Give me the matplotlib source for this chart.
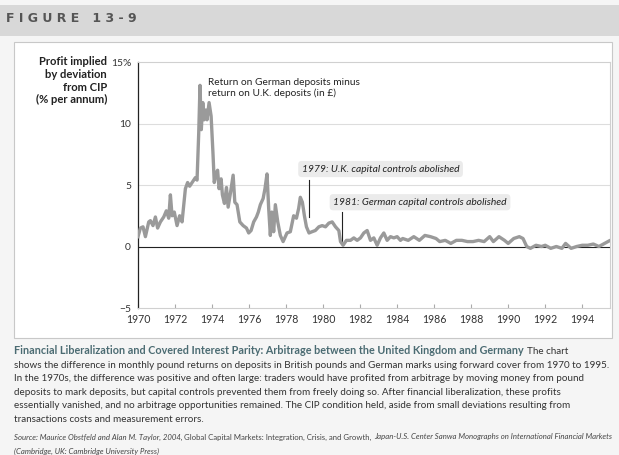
import matplotlib.pyplot as plt
import matplotlib.patches as patches
import numpy as np

plt.rcParams['font.family'] = ['Lato', 'DejaVu Sans']

# (year, profit in % per annum)
years = [1970.00, 1970.13, 1970.27, 1970.40, 1970.58, 1970.67, 1970.81, 1970.94,
         1971.06, 1971.21, 1971.39, 1971.53, 1971.66, 1971.75, 1971.84, 1971.96,
         1972.11, 1972.25, 1972.38, 1972.56, 1972.68, 1972.79, 1972.92, 1973.10,
         1973.19, 1973.28, 1973.35, 1973.42, 1973.50, 1973.57, 1973.66, 1973.73,
         1973.84, 1973.95, 1974.05, 1974.12, 1974.21, 1974.30, 1974.38, 1974.49,
         1974.56, 1974.67, 1974.78, 1974.87, 1975.00, 1975.14, 1975.23, 1975.35,
         1975.50, 1975.68, 1975.86, 1975.98, 1976.11, 1976.25, 1976.40, 1976.50,
         1976.61, 1976.76, 1976.86, 1976.97, 1977.06, 1977.15, 1977.23, 1977.33,
         1977.42, 1977.55, 1977.69, 1977.84, 1978.05, 1978.23, 1978.41, 1978.56,
         1978.68, 1978.77, 1978.88, 1978.99, 1979.10, 1979.24, 1979.40, 1979.58,
         1979.77, 1979.95, 1980.13, 1980.31, 1980.49, 1980.67, 1980.85, 1980.94,
         1981.08, 1981.26, 1981.48, 1981.66, 1981.84, 1982.02, 1982.20, 1982.38,
         1982.56, 1982.74, 1982.92, 1983.10, 1983.28, 1983.46, 1983.64, 1983.82,
         1984.00, 1984.18, 1984.30, 1984.60, 1984.90, 1985.20, 1985.50, 1985.80,
         1986.10, 1986.30, 1986.60, 1986.90, 1987.20, 1987.50, 1987.80, 1988.10,
         1988.40, 1988.70, 1989.00, 1989.20, 1989.50, 1989.80, 1990.00, 1990.30,
         1990.60, 1990.80, 1991.00, 1991.20, 1991.50, 1991.80, 1992.00, 1992.30,
         1992.60, 1992.90, 1993.10, 1993.40, 1993.70, 1994.00, 1994.30, 1994.60,
         1994.90, 1995.20, 1995.45]
profit = [0.8, 1.5, 1.6, 0.8, 2.0, 2.1, 1.7, 2.4,
          1.5, 2.0, 2.4, 2.9, 2.3, 4.2, 2.5, 2.8,
          1.7, 2.5, 2.0, 4.7, 5.2, 4.9, 5.2, 5.6,
          5.4, 9.2, 13.1, 9.5, 11.7, 10.3, 11.1, 10.3,
          11.7, 10.6, 7.6, 5.2, 5.9, 6.2, 4.7, 5.5,
          4.2, 3.5, 4.8, 3.2, 4.4, 5.8, 3.6, 3.4,
          2.0, 1.7, 1.5, 1.1, 1.3, 2.0, 2.4, 2.8,
          3.4, 3.9, 4.7, 5.9, 3.1, 0.9, 2.8, 1.2,
          3.4, 2.0, 0.9, 0.4, 1.1, 1.2, 2.5, 2.3,
          3.1, 4.0, 3.6, 2.5, 1.6, 1.1, 1.2, 1.3,
          1.6, 1.7, 1.6, 1.9, 2.0, 1.6, 1.3, 0.4,
          0.1, 0.5, 0.5, 0.7, 0.5, 0.7, 1.1, 1.3,
          0.5, 0.7, 0.1, 0.7, 1.1, 0.5, 0.8, 0.7,
          0.8, 0.5, 0.65, 0.5, 0.8, 0.5, 0.9, 0.8,
          0.65, 0.4, 0.5, 0.25, 0.5, 0.5, 0.4, 0.4,
          0.5, 0.4, 0.8, 0.4, 0.8, 0.5, 0.25, 0.65,
          0.8, 0.65, 0.0, -0.15, 0.1, 0.0, 0.1, -0.15,
          0.0, -0.15, 0.25, -0.15, 0.0, 0.1, 0.1, 0.2,
          0.0, 0.25, 0.45]

xticks = list(range(1970, 1996, 2))
yticks = [-5, 0, 5, 10, 15]
ytick_labels = ['\u22125', '0', '5', '10', '15%']

caption = [
    "shows the difference in monthly pound returns on deposits in British pounds and German marks using forward cover from 1970 to 1995.",
    "In the 1970s, the difference was positive and often large: traders would have profited from arbitrage by moving money from pound",
    "deposits to mark deposits, but capital controls prevented them from freely doing so. After financial liberalization, these profits",
    "essentially vanished, and no arbitrage opportunities remained. The CIP condition held, aside from small deviations resulting from",
    "transactions costs and measurement errors.",
]
title = "Financial Liberalization and Covered Interest Parity: Arbitrage between the United Kingdom and Germany"

W, H = 619, 455
fig = plt.figure(figsize=(W / 100, H / 100), dpi=100)
fig.patch.set_facecolor('#f5f5f5')


def px(x, y):
    return x / W, 1 - y / H


# header band and white panel
fig.patches.append(patches.Rectangle(px(0, 36), 1, 31 / H, transform=fig.transFigure,
                                     facecolor='#d8d8d8', edgecolor='none', zorder=-2))
fig.patches.append(patches.Rectangle(px(14, 338), 598 / W, 296 / H, transform=fig.transFigure,
                                     facecolor='white', edgecolor='#c8c8c8', lw=0.8, zorder=-2))
fig.text(*px(6, 19), "F I G U R E   1 3 - 9", fontsize=9, fontweight='bold',
         color='#555555', va='center', ha='left', family='DejaVu Sans')

ax = fig.add_axes([138 / W, 1 - 308 / H, 472 / W, 246 / H])
ax.set_facecolor('none')
ax.plot(years, profit, color='#9a9a9a', lw=2.4, solid_joinstyle='round', zorder=3)
ax.axhline(0, color='#222222', lw=0.8, zorder=2)
for g in [5, 10]:
    ax.axhline(g, color='#dddddd', lw=0.8, zorder=1)

ax.set_xlim(1970, 1995.5)
ax.set_ylim(-5, 15)
ax.set_xticks(xticks)
ax.set_xticklabels([str(t) for t in xticks])
ax.set_yticks(yticks)
ax.set_yticklabels(ytick_labels)
ax.tick_params(axis='x', direction='in', length=3, color='#aaaaaa', labelsize=7.6,
               labelcolor='#333333', pad=4)
ax.tick_params(axis='y', length=0, labelsize=7.4, labelcolor='#333333', pad=5)
for s in ['top', 'right', 'bottom']:
    ax.spines[s].set_color('#d0d0d0')
    ax.spines[s].set_linewidth(0.8)
ax.spines['left'].set_color('#222222')
ax.spines['left'].set_linewidth(0.9)

ax.text(1973.78, 13.7, "Return on German deposits minus\nreturn on U.K. deposits (in \u00a3)",
        fontsize=7.3, color='#222222', va='top', ha='left', linespacing=1.15)

box = dict(boxstyle='round,pad=0.35', facecolor='#ebebeb', edgecolor='none')
ax.text(1978.85, 6.3, "1979: U.K. capital controls abolished", fontsize=7.4, style='italic',
        color='#222222', va='center', ha='left', bbox=box)
ax.plot([1979.25, 1979.25], [2.4, 5.4], color='#222222', lw=0.8)
ax.text(1980.55, 3.6, "1981: German capital controls abolished", fontsize=7.4, style='italic',
        color='#222222', va='center', ha='left', bbox=box)
ax.plot([1981.03, 1981.03], [0.2, 2.8], color='#222222', lw=0.8)

fig.text(*px(107, 56), "Profit implied\nby deviation\nfrom CIP\n(% per annum)", fontsize=8.1,
         fontweight='bold', color='#222222', ha='right', va='top', linespacing=1.2)

# caption below the panel
renderer = fig.canvas.get_renderer()
t = fig.text(*px(14, 351), title, fontsize=7.75, fontweight='bold', color='#4b6b72',
             ha='left', va='center')
bb = t.get_window_extent(renderer)
fig.text(bb.x1 / W + 3 / W, 1 - 351 / H, "The chart", fontsize=7.1, color='#333333',
         ha='left', va='center')
for i, line in enumerate(caption):
    fig.text(*px(14, 365 + i * 13.6), line, fontsize=7.1, color='#333333', ha='left', va='center')

src = fig.text(*px(14, 437), "Source: Maurice Obstfeld and Alan M. Taylor, 2004, ", fontsize=5.6,
               style='italic', color='#444444', ha='left', va='center')
x0 = src.get_window_extent(renderer).x1
s2 = fig.text(x0 / W, 1 - 437 / H, "Global Capital Markets: Integration, Crisis, and Growth, ",
              fontsize=5.6, color='#444444', ha='left', va='center')
x0 = s2.get_window_extent(renderer).x1
fig.text(x0 / W, 1 - 437 / H, "Japan-U.S. Center Sanwa Monographs on International Financial Markets",
         fontsize=5.6, style='italic', color='#444444', ha='left', va='center')
fig.text(*px(14, 451), "(Cambridge, UK: Cambridge University Press)", fontsize=5.6,
         style='italic', color='#444444', ha='left', va='center')

fig.savefig('out.png', dpi=100, facecolor=fig.get_facecolor())
